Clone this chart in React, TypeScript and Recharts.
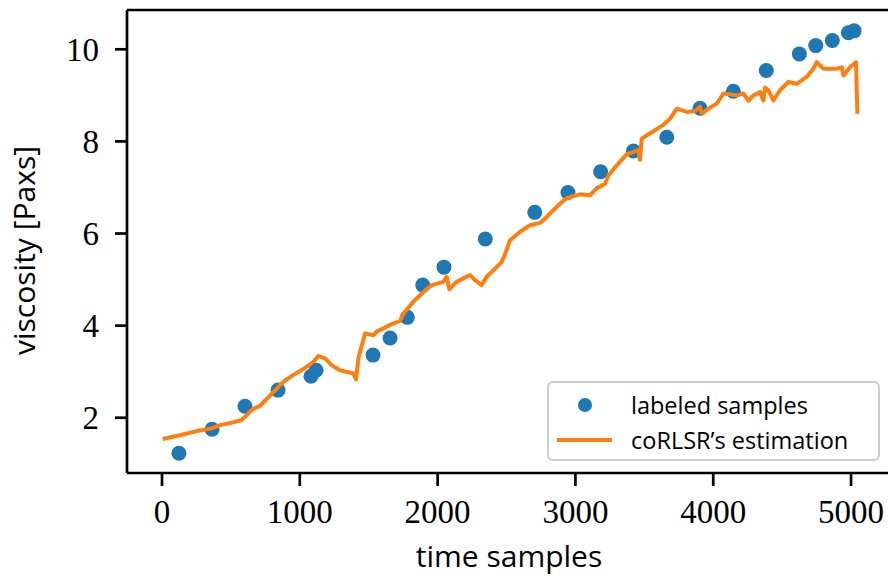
import React from "react";
import {
    ComposedChart,
    Line,
    Scatter,
    XAxis,
    YAxis,
    Legend,
    ReferenceLine,
} from "recharts";

// labeled viscosity measurements
const sampleTimes = [123, 363, 602, 842, 1081, 1118, 1531, 1655, 1780, 1892, 2046, 2346, 2705, 2946, 3183, 3421, 3663, 3904, 4146, 4385, 4625, 4744, 4864, 4981, 5022];
const sampleViscosity = [1.23, 1.75, 2.25, 2.6, 2.9, 3.03, 3.36, 3.73, 4.18, 4.88, 5.27, 5.88, 6.46, 6.89, 7.34, 7.79, 8.09, 8.72, 9.09, 9.54, 9.9, 10.08, 10.19, 10.36, 10.4];

// coRLSR estimate over time
const estimateTimes = [
    5, 131, 252, 348, 421, 518, 578, 602, 651, 711, 784, 880, 953, 1038, 1098, 1134, 1183, 1231, 1292, 1389,
    1408, 1425, 1461, 1473, 1534, 1558, 1606, 1679, 1727, 1752, 1824, 1872, 1897, 1957, 2041, 2066, 2085, 2138, 2235, 2271,
    2320, 2356, 2404, 2465, 2489, 2525, 2598, 2671, 2743, 2792, 2864, 2937, 3033, 3106, 3154, 3215, 3239, 3300, 3372, 3457,
    3469, 3481, 3566, 3638, 3687, 3735, 3808, 3868, 3904, 3917, 3960, 4026, 4074, 4171, 4219, 4256, 4292, 4340, 4364, 4376,
    4400, 4437, 4485, 4545, 4606, 4678, 4727, 4751, 4800, 4896, 4933, 4945, 4993, 5036, 5046,
];
const estimateViscosity = [
    1.54, 1.62, 1.71, 1.76, 1.84, 1.9, 1.95, 2.02, 2.17, 2.26, 2.48, 2.78, 2.93, 3.08, 3.21, 3.34, 3.29, 3.14, 3.03, 2.96,
    2.83, 3.29, 3.69, 3.83, 3.79, 3.87, 3.94, 4.05, 4.1, 4.26, 4.52, 4.66, 4.73, 4.88, 4.95, 5.06, 4.79, 4.95, 5.1, 4.99,
    4.88, 5.06, 5.2, 5.38, 5.55, 5.85, 6.04, 6.18, 6.23, 6.36, 6.58, 6.77, 6.85, 6.83, 6.98, 7.08, 7.26, 7.48, 7.72, 7.81,
    7.6, 8.06, 8.22, 8.36, 8.49, 8.71, 8.64, 8.66, 8.75, 8.6, 8.7, 8.82, 9.04, 9.0, 9.04, 8.88, 9.0, 9.07, 8.89, 9.17,
    9.11, 8.89, 9.11, 9.29, 9.25, 9.4, 9.58, 9.72, 9.58, 9.58, 9.61, 9.43, 9.61, 9.72, 8.6,
];

const xTicks = [0, 1000, 2000, 3000, 4000, 5000];
const yTicks = [2, 4, 6, 8, 10];

const samples = sampleTimes.map((t, i) => ({ t, v: sampleViscosity[i] }));
const estimate = estimateTimes.map((t, i) => ({ t, v: estimateViscosity[i] }));

const X_DOMAIN = [-254, 5290];
const Y_DOMAIN = [0.8, 10.853];

const BLUE = "#1f77b4";
const ORANGE = "#ff7f0e";
const SPINE = 2.7;
const tickFont = { fontFamily: "'Liberation Serif', serif", fontSize: 33, fill: "#000" };
const labelFont = "'Open Sans', sans-serif";

const XLabel = ({ viewBox }: any) => (
    <text x={viewBox.x + viewBox.width / 2} y={viewBox.y + 94} textAnchor="middle"
          fontFamily={labelFont} fontSize={30} fill="#000">time samples</text>
);

const YLabel = ({ viewBox }: any) => {
    const cx = 35;
    const cy = viewBox.y + viewBox.height / 2 + 9;
    return (
        <text x={cx} y={cy} transform={`rotate(-90, ${cx}, ${cy})`} textAnchor="middle"
              fontFamily={labelFont} fontSize={30} fill="#000">viscosity [Paxs]</text>
    );
};

const Dot = (props: any) => <circle cx={props.cx} cy={props.cy} r={7.5} fill={BLUE} />;

const LegendBox = ({ payload }: any) => {
    // markers first, then the line
    const items = [...(payload || [])].sort((a: any, b: any) => (a.type === "circle" ? -1 : 0) - (b.type === "circle" ? -1 : 0));
    return (
        <div style={{
            border: "2.5px solid #cccccc", borderRadius: 6, background: "rgba(255,255,255,0.8)",
            boxSizing: "border-box", width: 333, height: 80, padding: "4px 0 0 0",
            fontFamily: labelFont, fontSize: 23.5, color: "#000",
        }}>
            {items.map((entry: any) => (
                <div key={entry.value} style={{ display: "flex", alignItems: "center", height: 35 }}>
                    <svg width={82} height={20} style={{ flex: "none" }}>
                        {entry.type === "circle"
                            ? <circle cx={36} cy={10} r={7} fill={BLUE} />
                            : <line x1={8} y1={10} x2={63} y2={10} stroke={ORANGE} strokeWidth={4} />}
                    </svg>
                    <span style={{ whiteSpace: "nowrap" }}>{entry.value}</span>
                </div>
            ))}
        </div>
    );
};

export default function App() {
    return (
        <div style={{ position: "fixed", left: 0, top: 0, width: 888, height: 578, overflow: "hidden", background: "#fff" }}>
            <ComposedChart width={900} height={578} margin={{ top: 10, right: 9, bottom: 0, left: 0 }}>
                <XAxis dataKey="t" type="number" domain={X_DOMAIN} ticks={xTicks} allowDataOverflow
                       height={105} tickSize={13} tickMargin={14} tick={tickFont}
                       axisLine={{ stroke: "#000", strokeWidth: SPINE }}
                       tickLine={{ stroke: "#000", strokeWidth: SPINE }}
                       label={<XLabel />} />
                <YAxis dataKey="v" type="number" domain={Y_DOMAIN} ticks={yTicks} allowDataOverflow
                       width={127} tickSize={12} tickMargin={16} tick={tickFont}
                       axisLine={{ stroke: "#000", strokeWidth: SPINE }}
                       tickLine={{ stroke: "#000", strokeWidth: SPINE }}
                       label={<YLabel />} />
                {/* top spine */}
                <ReferenceLine y={Y_DOMAIN[1]} stroke="#000" strokeWidth={SPINE} ifOverflow="visible" />
                <Legend layout="vertical" align="center" verticalAlign="middle" content={<LegendBox />}
                        wrapperStyle={{ left: 547, top: 381, width: 333, height: 80 }} />
                <Scatter name="labeled samples" data={samples} dataKey="v" fill={BLUE}
                         shape={<Dot />} legendType="circle" isAnimationActive={false} />
                <Line name="coRLSR’s estimation" data={estimate} dataKey="v" type="linear"
                      stroke={ORANGE} strokeWidth={4} strokeLinejoin="round" dot={false}
                      legendType="line" isAnimationActive={false} zIndex={700} />
            </ComposedChart>
        </div>
    );
}
